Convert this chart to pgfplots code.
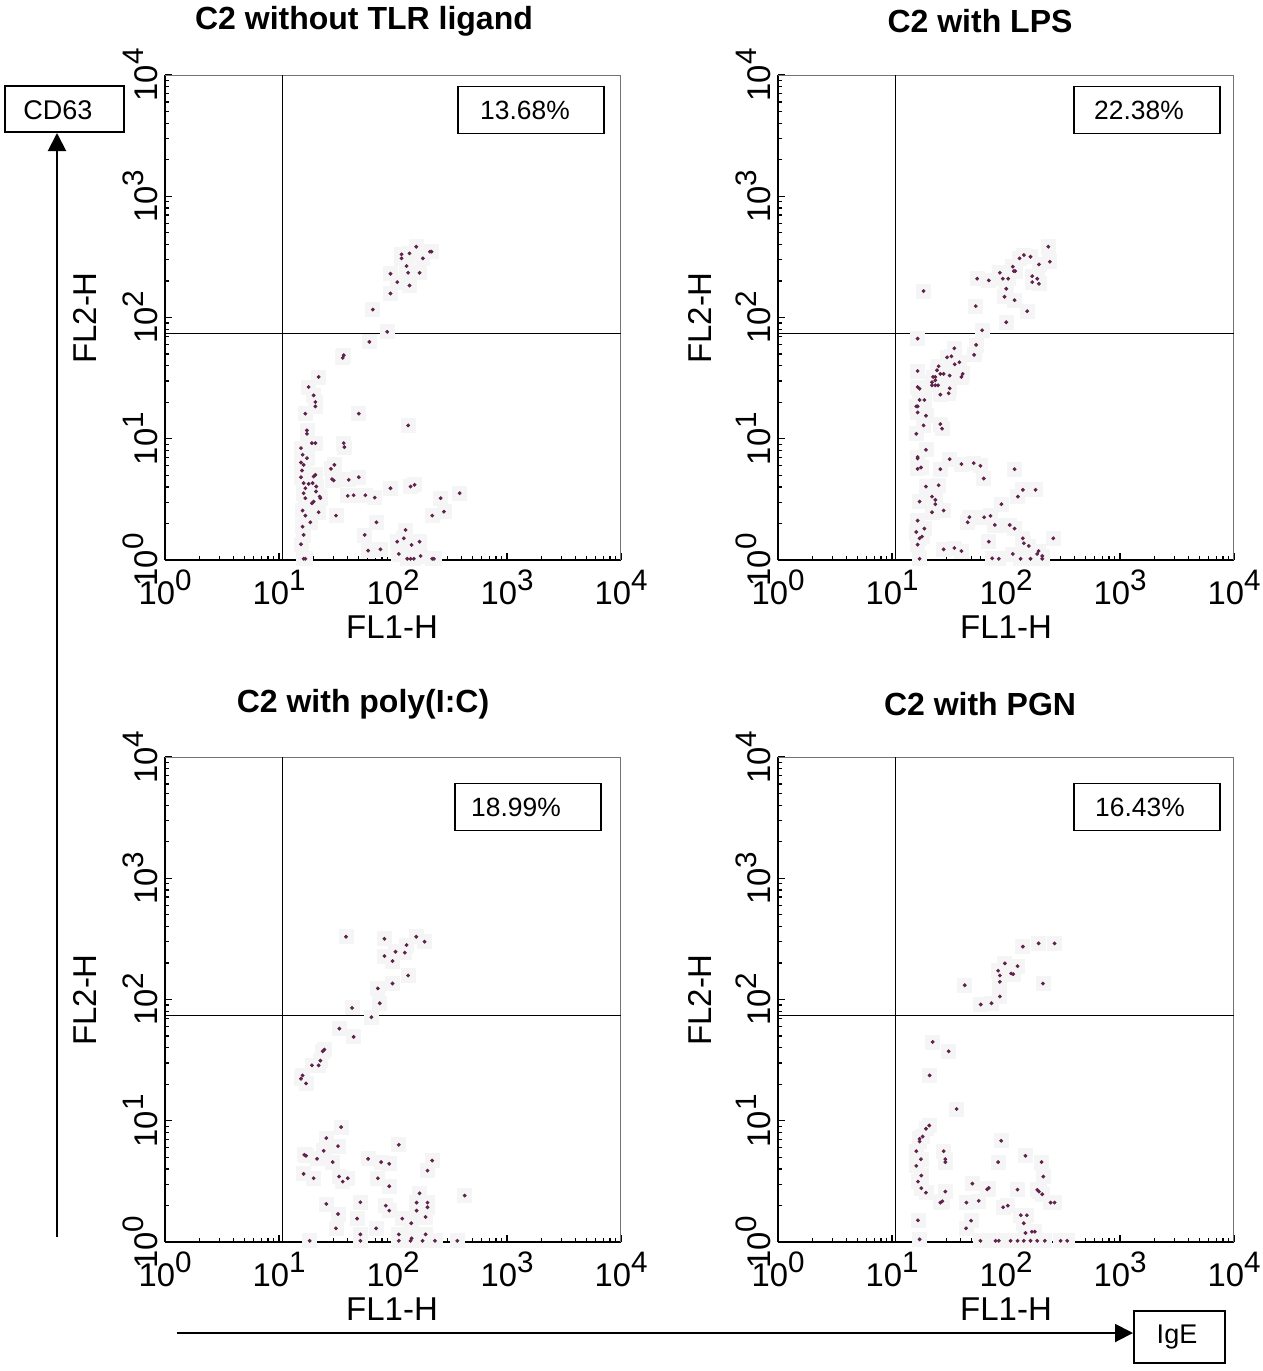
\documentclass[border=0pt]{standalone}
\usepackage{fontspec}
\setmainfont{Liberation Sans}
\usepackage{pgfplots}
\pgfplotsset{compat=1.18}
\usepackage{pgfplotstable}
\usetikzlibrary{arrows.meta}

\newcommand{\tp}[1]{10\raisebox{7pt}{\fontsize{14.8}{14.8}\selectfont #1}}

% data: log10 of FL1-H (lx) and FL2-H (ly)
\pgfplotstableread{
lx ly
2.204 2.584
2.075 2.521
2.145 2.529
2.324 2.543
2.338 2.543
2.262 2.488
2.075 2.488
2.119 2.424
1.978 2.361
2.133 2.369
2.233 2.369
2.037 2.292
2.145 2.264
1.978 2.198
1.823 2.066
1.949 1.882
1.793 1.799
1.568 1.689
1.559 1.667
1.348 1.510
1.260 1.427
1.304 1.358
1.319 1.303
1.319 1.267
1.231 1.207
1.700 1.207
2.133 1.110
1.245 1.069
1.245 1.041
1.289 0.964
1.319 0.964
1.568 0.964
1.574 0.931
1.193 0.923
1.207 0.868
1.245 0.840
1.193 0.804
1.216 0.785
1.456 0.752
1.486 0.785
1.202 0.738
1.319 0.702
1.304 0.689
1.193 0.683
1.465 0.667
1.480 0.656
1.612 0.661
1.700 0.683
1.216 0.634
1.260 0.628
1.295 0.634
1.327 0.606
2.154 0.606
2.189 0.620
1.231 0.592
1.978 0.592
1.216 0.551
1.325 0.565
1.357 0.523
1.363 0.510
1.603 0.529
1.655 0.534
1.758 0.534
1.840 0.515
2.418 0.510
2.585 0.551
1.231 0.510
1.304 0.482
1.289 0.468
1.207 0.408
1.348 0.394
2.447 0.399
1.231 0.366
1.500 0.366
2.344 0.366
1.275 0.311
1.855 0.311
1.207 0.275
1.216 0.207
1.752 0.207
2.110 0.248
2.037 0.151
2.095 0.179
2.163 0.124
2.233 0.151
1.193 0.130
1.782 0.077
1.890 0.088
2.051 0.050
2.242 0.033
1.216 0.010
1.231 0.010
2.125 0.010
2.154 0.010
2.183 0.010
2.344 0.010
2.359 0.010
}\datatl

\pgfplotstableread{
lx ly
2.371 2.584
2.385 2.460
2.157 2.515
2.215 2.501
2.119 2.488
2.289 2.438
2.060 2.419
2.069 2.383
2.081 2.383
1.946 2.369
2.230 2.341
2.274 2.320
1.972 2.320
2.019 2.320
1.747 2.320
1.849 2.306
2.230 2.292
2.289 2.278
2.002 2.237
1.277 2.218
1.987 2.171
2.075 2.143
1.735 2.094
2.186 2.052
2.002 1.961
1.791 1.895
1.225 1.826
1.738 1.774
1.547 1.746
1.483 1.672
1.521 1.680
1.720 1.692
1.591 1.631
1.550 1.614
1.409 1.598
1.395 1.565
1.225 1.559
1.424 1.535
1.453 1.535
1.506 1.521
1.620 1.535
1.609 1.510
1.360 1.510
1.380 1.510
1.380 1.482
1.351 1.466
1.351 1.441
1.380 1.441
1.404 1.441
1.506 1.416
1.225 1.427
1.242 1.413
1.424 1.364
1.497 1.375
1.242 1.320
1.284 1.320
1.213 1.267
1.225 1.267
1.225 1.217
1.298 1.190
1.277 1.110
1.213 1.041
1.424 1.121
1.439 1.083
1.298 0.909
1.225 0.849
1.225 0.837
1.506 0.832
1.254 0.763
1.225 0.752
1.424 0.749
1.609 0.791
1.717 0.799
1.776 0.777
2.075 0.749
1.805 0.672
1.298 0.606
1.409 0.617
1.351 0.523
1.380 0.496
2.148 0.579
2.259 0.579
2.104 0.523
1.242 0.482
1.380 0.460
1.351 0.394
1.453 0.408
1.960 0.460
1.225 0.325
1.679 0.353
1.664 0.311
1.808 0.353
1.864 0.364
1.902 0.289
2.033 0.289
2.075 0.259
1.284 0.259
1.213 0.231
2.415 0.179
1.242 0.179
1.263 0.193
2.148 0.179
2.157 0.138
2.200 0.116
1.225 0.127
1.849 0.151
1.453 0.088
1.547 0.099
1.609 0.074
2.286 0.074
2.274 0.050
2.318 0.033
2.060 0.050
1.879 0.014
1.242 0.010
1.937 0.010
2.215 0.010
2.318 0.010
2.128 0.010
}\datatr

\pgfplotstableread{
lx ly
1.588 2.518
1.925 2.501
2.204 2.518
2.277 2.477
2.119 2.449
2.022 2.394
1.925 2.358
1.996 2.317
2.104 2.386
2.133 2.198
1.996 2.132
1.867 2.091
1.884 1.969
1.641 1.931
1.811 1.854
1.530 1.760
1.655 1.692
1.398 1.587
1.383 1.573
1.363 1.496
1.289 1.457
1.348 1.457
1.207 1.374
1.193 1.347
1.237 1.308
1.545 0.948
1.415 0.857
1.392 0.752
1.518 0.791
1.222 0.719
1.237 0.711
1.334 0.686
1.471 0.659
1.782 0.686
1.896 0.659
1.967 0.645
2.051 0.802
2.344 0.672
1.216 0.562
1.304 0.526
1.527 0.540
1.559 0.498
1.603 0.526
1.867 0.526
2.303 0.589
1.967 0.460
2.233 0.402
1.415 0.314
1.714 0.328
2.207 0.325
2.303 0.325
1.937 0.300
1.967 0.259
2.207 0.259
2.303 0.287
2.629 0.383
1.518 0.231
1.685 0.193
2.081 0.193
2.286 0.207
2.160 0.155
1.500 0.113
1.852 0.113
1.714 0.063
2.051 0.063
2.286 0.063
2.163 0.030
1.269 0.010
1.714 0.010
2.051 0.010
2.154 0.010
2.259 0.010
2.368 0.010
2.564 0.010
}\databl

\pgfplotstableread{
lx ly
2.148 2.436
2.286 2.463
2.426 2.463
1.990 2.298
2.101 2.275
2.045 2.215
2.063 2.209
1.931 2.237
1.946 2.198
1.946 2.146
1.638 2.118
2.324 2.132
1.946 2.025
1.873 1.969
1.779 1.959
1.357 1.650
1.497 1.573
1.330 1.374
1.567 1.097
1.327 0.961
1.298 0.934
1.269 0.870
1.242 0.851
1.242 0.829
1.958 0.835
1.213 0.749
1.453 0.749
1.468 0.683
1.468 0.659
1.254 0.683
2.171 0.711
1.931 0.659
2.312 0.659
1.213 0.628
1.257 0.548
2.327 0.540
1.228 0.498
1.257 0.444
1.298 0.407
1.468 0.416
1.705 0.482
1.835 0.435
1.849 0.446
2.101 0.432
2.274 0.430
2.289 0.416
2.318 0.394
1.424 0.325
1.442 0.336
1.653 0.325
1.761 0.339
1.975 0.287
2.016 0.300
2.391 0.325
2.426 0.325
2.130 0.221
2.183 0.221
1.228 0.179
1.694 0.176
2.156 0.155
1.650 0.113
2.171 0.074
2.227 0.085
2.253 0.085
1.242 0.022
1.776 0.010
1.908 0.010
1.937 0.010
2.040 0.010
2.101 0.010
2.156 0.010
2.215 0.010
2.274 0.010
2.341 0.010
2.479 0.010
2.537 0.010
}\databr

\definecolor{dotc}{RGB}{95,35,75}
\definecolor{haloc}{RGB}{246,245,246}

\pgfplotsset{myfacs/.style={
  scale only axis, width=228pt, height=242.5pt,
  xmin=1, xmax=10000, ymin=1, ymax=10000,
  axis lines*=left, axis line style={line width=0.8pt},
  tick align=inside, major tick length=3.5pt, minor tick length=2pt,
  tick style={black, line width=0.6pt},
  xtick={1,10,100,1000,10000}, ytick={1,10,100,1000,10000},
  minor xtick={2,3,4,5,6,7,8,9,20,30,40,50,60,70,80,90,200,300,400,500,600,700,800,900,2000,3000,4000,5000,6000,7000,8000,9000},
  minor ytick={2,3,4,5,6,7,8,9,20,30,40,50,60,70,80,90,200,300,400,500,600,700,800,900,2000,3000,4000,5000,6000,7000,8000,9000},
  xticklabels={\tp{0},\tp{1},\tp{2},\tp{3},\tp{4}},
  yticklabels={\tp{0},\tp{1},\tp{2},\tp{3},\tp{4}},
  tick label style={font=\fontsize{16.4}{17}\selectfont},
  yticklabel style={rotate=90, anchor=south},
  xticklabel style={anchor=north, yshift=-1.5pt},
}}

\newcommand{\facsdata}[1]{%
  \addplot[only marks, mark=square*, mark size=3.5pt, color=haloc]
    table[x expr={10^(\thisrow{lx})}, y expr={10^(\thisrow{ly})}] {#1};
  \addplot[only marks, mark=*, mark size=0.75pt, color=dotc]
    table[x expr={10^(\thisrow{lx})}, y expr={10^(\thisrow{ly})}] {#1};
  \draw[black!55, line width=0.6pt] (rel axis cs:0,1) -- (rel axis cs:1,1) -- (rel axis cs:1,0);
  \draw[line width=0.75pt] (axis cs:10.7,1) -- (axis cs:10.7,10000);
  \draw[line width=0.75pt] (axis cs:1,73.5) -- (axis cs:10000,73.5);
}

\begin{document}
\begin{tikzpicture}
\path[use as bounding box] (0pt,0pt) rectangle (631.5pt,-685.5pt);

\begin{loglogaxis}[myfacs, at={(82.5pt,-280pt)}, anchor=south west]
\facsdata{\datatl}
\end{loglogaxis}
\begin{loglogaxis}[myfacs, at={(389pt,-280pt)}, anchor=south west]
\facsdata{\datatr}
\end{loglogaxis}
\begin{loglogaxis}[myfacs, at={(82.5pt,-621pt)}, anchor=south west]
\facsdata{\databl}
\end{loglogaxis}
\begin{loglogaxis}[myfacs, at={(389pt,-621pt)}, anchor=south west]
\facsdata{\databr}
\end{loglogaxis}

\begin{scope}[x=0.5pt, y=-0.5pt]
% titles
\begin{scope}[every node/.style={font=\bfseries\fontsize{16}{18}\selectfont}]
\node at (364,21) {C2 without TLR ligand};
\node at (980,21) {C2 with LPS};
\node at (363,704) {C2 with poly(I:C)};
\node at (980,704) {C2 with PGN};
\end{scope}

% axis labels
\begin{scope}[every node/.style={font=\fontsize{16.5}{18}\selectfont}]
\node at (392,627) {FL1-H};
\node at (1006,627) {FL1-H};
\node at (392,1309) {FL1-H};
\node at (1006,1309) {FL1-H};
\node[rotate=90] at (85,318) {FL2-H};
\node[rotate=90] at (700,318) {FL2-H};
\node[rotate=90] at (85,1000) {FL2-H};
\node[rotate=90] at (700,1000) {FL2-H};
\end{scope}

% percentage boxes
\begin{scope}[every node/.style={draw, line width=0.8pt, minimum width=73pt, minimum height=23.5pt, inner sep=0pt}]
\node at (531,110) {};
\node at (1147,110) {};
\node at (528,807) {};
\node at (1147,807) {};
\end{scope}
\begin{scope}[every node/.style={font=\fontsize{13.2}{15}\selectfont, inner sep=0pt}]
\node at (525,110) {13.68\%};
\node at (1139,110) {22.38\%};
\node at (516,807) {18.99\%};
\node at (1140,807) {16.43\%};
\end{scope}

% CD63 and IgE
\node[draw, line width=0.8pt, minimum width=59.5pt, minimum height=23pt, inner sep=0pt] at (64.5,109) {};
\node[font=\fontsize{13.5}{15}\selectfont, inner sep=0pt] at (58,110) {CD63};
\node[draw, line width=0.8pt, minimum width=45.5pt, minimum height=26pt, inner sep=0pt] at (1179.5,1337) {};
\node[font=\fontsize{13.5}{15}\selectfont, inner sep=0pt] at (1177,1337) {IgE};
\draw[line width=1pt, -{Triangle[length=9pt,width=9pt]}] (57,1237) -- (57,133);
\draw[line width=1pt, -{Triangle[length=9pt,width=9pt]}] (177,1333) -- (1133,1333);
\end{scope}
\end{tikzpicture}
\end{document}
